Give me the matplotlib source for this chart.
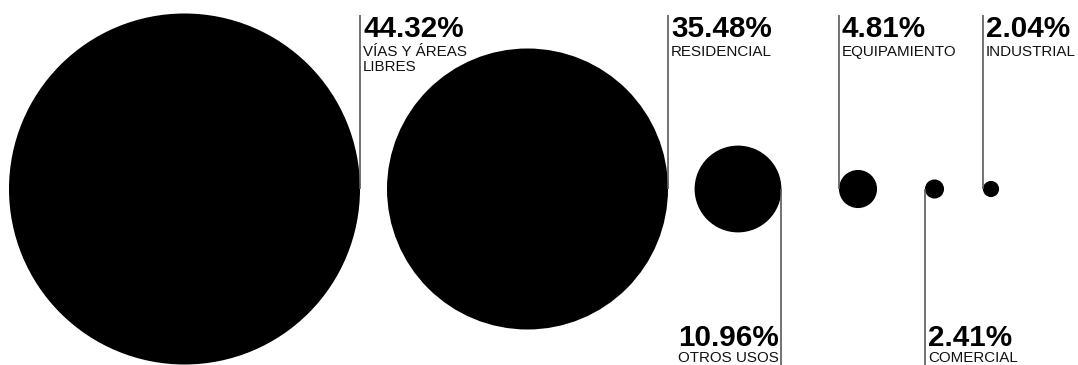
import matplotlib
matplotlib.use("Agg")
import matplotlib.pyplot as plt
from matplotlib.patches import Circle

# Land-use shares (%)
categories = ["VÍAS Y ÁREAS\nLIBRES", "RESIDENCIAL", "OTROS USOS",
              "EQUIPAMIENTO", "COMERCIAL", "INDUSTRIAL"]
shares = [44.32, 35.48, 10.96, 4.81, 2.41, 2.04]

# Layout: circle centres (px), label placement and leader-line side
centers_x = [184.5, 527.5, 738, 858, 934.5, 991]
center_y = 189
label_pos = ["top", "top", "bottom", "top", "bottom", "top"]
line_side = [1, 1, 1, -1, -1, -1]   # +1 right edge, -1 left edge
px_per_pct = 3.96                   # circle radius grows linearly with share

W, H = 1078, 365
fig = plt.figure(figsize=(W / 100, H / 100), dpi=100)
ax = fig.add_axes([0, 0, 1, 1])
ax.set_xlim(0, W)
ax.set_ylim(H, 0)
ax.axis("off")

font = ["Liberation Sans", "DejaVu Sans"]
line_color = "#5a5a5a"
line_step = 15  # baseline-to-baseline distance of category lines


def category_text(x, y, text, ha):
    for i, part in enumerate(text.split("\n")):
        ax.text(x, y + i * line_step, part, family=font, fontsize=10.9,
                ha=ha, va="baseline", color="#111111")


for cat, val, cx, pos, side in zip(categories, shares, centers_x, label_pos, line_side):
    r = val * px_per_pct
    ax.add_patch(Circle((cx, center_y), r, facecolor="black", edgecolor="none"))
    lx = cx + side * r
    if pos == "top":
        ax.plot([lx, lx], [15, center_y], color=line_color, lw=1.2,
                solid_capstyle="butt")
        ax.text(lx + 3, 37, f"{val:.2f}%", family=font, fontweight="bold",
                fontsize=21.3, ha="left", va="baseline", color="black")
        category_text(lx + 3, 56, cat, "left")
    else:
        ax.plot([lx, lx], [center_y, H], color=line_color, lw=1.2,
                solid_capstyle="butt")
        if side > 0:
            tx, ha = lx - 3, "right"
        else:
            tx, ha = lx + 3, "left"
        ax.text(tx, 346, f"{val:.2f}%", family=font, fontweight="bold",
                fontsize=21.3, ha=ha, va="baseline", color="black")
        category_text(tx, 362, cat, ha)

fig.savefig("out.png", dpi=100, facecolor="white")
